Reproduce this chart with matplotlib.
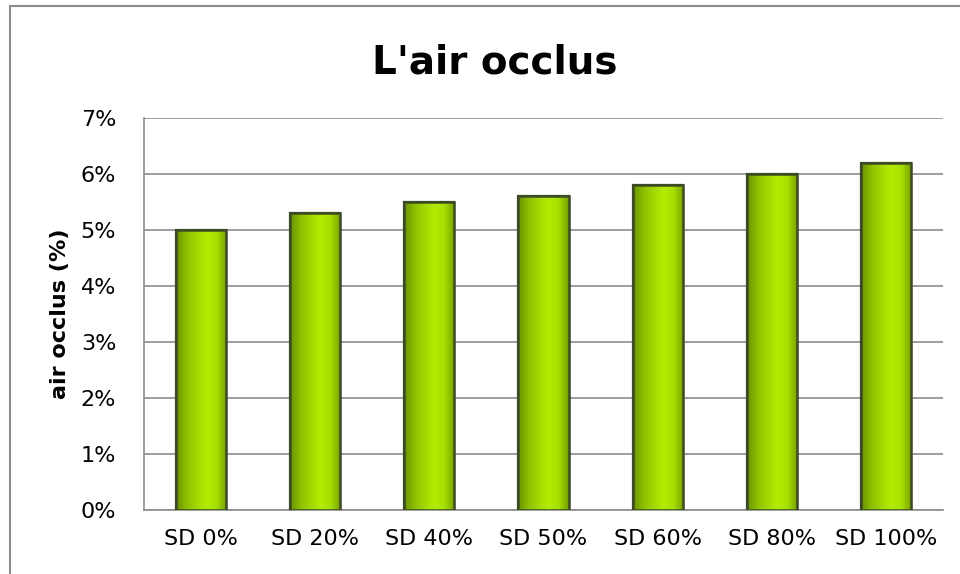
import numpy as np
import matplotlib.pyplot as plt
from matplotlib.colors import LinearSegmentedColormap
from matplotlib.lines import Line2D

# data
categories = ['SD 0%', 'SD 20%', 'SD 40%', 'SD 50%', 'SD 60%', 'SD 80%', 'SD 100%']
air_occlus = [5.0, 5.3, 5.5, 5.6, 5.8, 6.0, 6.2]
y_ticks = [0, 1, 2, 3, 4, 5, 6, 7]

plt.rcParams['font.family'] = ['DejaVu Sans']

fig = plt.figure(figsize=(9.6, 5.74), dpi=100)
ax = fig.add_axes([144/960, 64/574, (943-144)/960, (510-118)/574])

x = np.arange(len(categories))
width = 0.44
bars = ax.bar(x, air_occlus, width=width, color='#9dd400',
              edgecolor='#3d4b25', linewidth=1.6, zorder=3)

# shaded fill for each bar
green = LinearSegmentedColormap.from_list(
    'g', ['#6a9200', '#8cbf00', '#a2d800', '#b2ec00', '#a6e000', '#779f00'])
grad = np.linspace(0, 1, 100).reshape(1, -1)
for b in bars:
    x0, w, h = b.get_x(), b.get_width(), b.get_height()
    im = ax.imshow(grad, cmap=green, aspect='auto', zorder=3.5,
                   extent=[x0, x0 + w, 0, h], interpolation='bicubic')
    im.set_clip_path(b)
    ax.bar(x0 + w/2, h, width=w, fill=False, edgecolor='#3d4b25',
           linewidth=1.8, zorder=4)

ax.set_xlim(-0.5, len(categories) - 0.5)
ax.set_ylim(0, 7)
ax.set_yticks(y_ticks)
ax.set_yticklabels([f'{t}%' for t in y_ticks], fontsize=16)
ax.set_xticks(x)
ax.set_xticklabels(categories, fontsize=16)
ax.tick_params(axis='x', length=0, pad=14)
ax.tick_params(axis='y', length=0, pad=20)
ax.grid(axis='y', color='#8c8c8c', linewidth=1.2, zorder=0)

for s in ['top', 'right']:
    ax.spines[s].set_visible(False)
ax.spines['left'].set_color('#8c8c8c')
ax.spines['bottom'].set_color('#8c8c8c')
ax.spines['left'].set_linewidth(1.2)
ax.spines['bottom'].set_linewidth(1.2)

ax.set_ylabel('air occlus (%)', fontsize=16, fontweight='bold', labelpad=8)
fig.text(495/960, 1 - 73/574, "L'air occlus", ha='center', va='baseline',
         fontsize=28, fontweight='bold')

# outer chart frame (left and top edges visible)
fig.add_artist(Line2D([10/960, 10/960], [0, 1 - 6/574], color='#8c8c8c', lw=1.5))
fig.add_artist(Line2D([10/960, 1], [1 - 6/574, 1 - 6/574], color='#8c8c8c', lw=1.5))

fig.savefig('out.png', dpi=100)
